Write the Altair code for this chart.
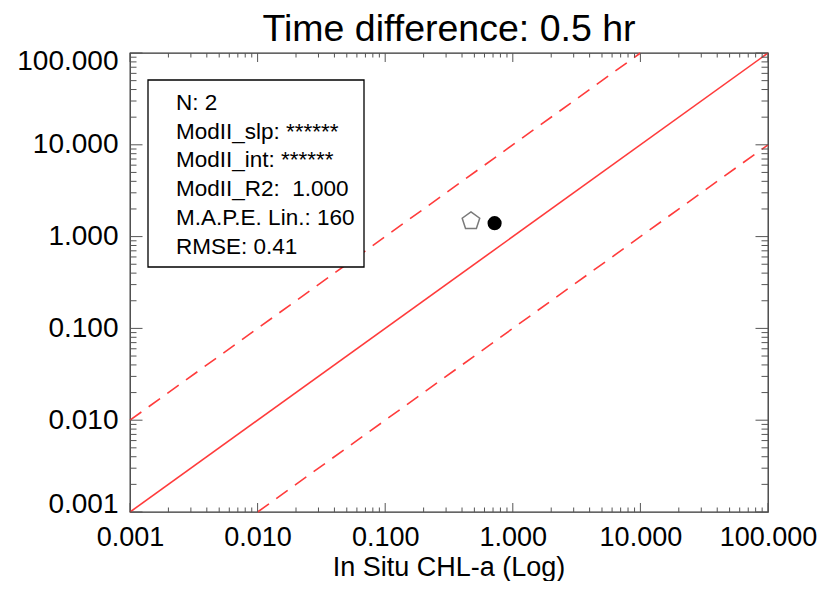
import altair as alt
import pandas as pd

# ---- data ----
decades = [0.001, 0.01, 0.1, 1.0, 10.0, 100.0]
minor_mult = [2, 3, 4, 5, 6, 7, 8, 9]

pent_x = [0.47]
pent_y = [1.51]
circ_x = [0.72]
circ_y = [1.40]

one_x = [0.001, 100.0]
one_y = [0.001, 100.0]
up_x = [0.001, 10.0]
up_y = [0.01, 100.0]
lo_x = [0.01, 100.0]
lo_y = [0.001, 10.0]

stats_lines = ["N: 2", "ModII_slp: ******", "ModII_int: ******",
               "ModII_R2: \u00a01.000", "M.A.P.E. Lin.: 160", "RMSE: 0.41"]
title_text = "Time difference: 0.5 hr"
x_title = "In Situ CHL-a (Log)"

# ---- layout / style ----
W, H = 638, 459
FONT = "Liberation Sans"
RED = "#ff3b3b"
TICK = "#555555"

xs = alt.Scale(type="log", domain=[decades[0], decades[-1]], nice=False)
ys = alt.Scale(type="log", domain=[decades[0], decades[-1]], nice=False)

x_axis = alt.Axis(values=decades, format=".3f", ticks=False, domain=False, grid=False,
                  labelFont=FONT, labelFontSize=27, labelColor="black", labelPadding=12,
                  labelFlush=False, labelOverlap=False, title=None)
y_axis = alt.Axis(values=decades, format=".3f", ticks=False, domain=False, grid=False,
                  labelFont=FONT, labelFontSize=28, labelColor="black", labelPadding=12,
                  labelFlush=True, labelFlushOffset=6, labelOverlap=False, title=None)

X = alt.X("x:Q", scale=xs, axis=x_axis)
Y = alt.Y("y:Q", scale=ys, axis=y_axis)

one_row = pd.DataFrame({"a": [0]})

def line_layer(xv, yv, dash=None):
    df = pd.DataFrame({"x": xv, "y": yv})
    kw = dict(color=RED, strokeWidth=1.6)
    if dash:
        kw["strokeDash"] = dash
    return alt.Chart(df).mark_line(**kw).encode(x=X, y=Y)

one = line_layer(one_x, one_y)
up = line_layer(up_x, up_y, [14, 9])
lo = line_layer(lo_x, lo_y, [14, 9])

box = alt.Chart(one_row).mark_rect(
    fill="white", stroke="black", strokeWidth=1.3
).encode(x=alt.value(18), x2=alt.value(234), y=alt.value(27), y2=alt.value(214))

stats = alt.Chart(one_row).mark_text(
    font=FONT, fontSize=22.5, align="left", baseline="middle", lineHeight=28.7, color="black"
).encode(x=alt.value(46), y=alt.value(50), text=alt.value(stats_lines))

title = alt.Chart(one_row).mark_text(
    font=FONT, fontSize=37.5, align="center", baseline="alphabetic", color="black"
).encode(x=alt.value(W / 2), y=alt.value(-12), text=alt.value(title_text))

xtitle = alt.Chart(one_row).mark_text(
    font=FONT, fontSize=27, align="center", baseline="alphabetic", color="black"
).encode(x=alt.value(W / 2), y=alt.value(H + 63.8), text=alt.value(x_title))

pent_path = "M0,-0.905 L0.951,-0.214 L0.588,0.905 L-0.588,0.905 L-0.951,-0.214 Z"
pent = alt.Chart(pd.DataFrame({"x": pent_x, "y": pent_y})).mark_point(
    shape=pent_path, filled=False, stroke="#7a7a7a", strokeWidth=1.5, size=340, opacity=1
).encode(x=X, y=Y)
circ = alt.Chart(pd.DataFrame({"x": circ_x, "y": circ_y})).mark_circle(
    color="black", size=200, opacity=1
).encode(x=X, y=Y)

major = decades
minor = [m * d for d in decades[:-1] for m in minor_mult]

def xticks(vals, y0, y1):
    return alt.Chart(pd.DataFrame({"x": vals})).mark_rule(color=TICK, strokeWidth=1).encode(
        x=X, y=alt.value(y0), y2=alt.value(y1))

def yticks(vals, x0, x1):
    return alt.Chart(pd.DataFrame({"y": vals})).mark_rule(color=TICK, strokeWidth=1).encode(
        y=Y, x=alt.value(x0), x2=alt.value(x1))

XM, Xm = 9, 4.5
YM, Ym = 12.5, 6.5
ticks = [
    xticks(major, H, H - XM), xticks(minor, H, H - Xm),
    xticks(major, 0, XM), xticks(minor, 0, Xm),
    yticks(major, 0, YM), yticks(minor, 0, Ym),
    yticks(major, W, W - YM), yticks(minor, W, W - Ym),
]

chart = alt.layer(one, up, lo, box, stats, pent, circ, *ticks, title, xtitle).properties(
    width=W, height=H,
    autosize=alt.AutoSizeParams(type="none"),
    padding={"left": 122, "top": 45, "right": 49, "bottom": 69},
).configure_view(stroke="#333333", strokeWidth=1.3)

chart.save("out.html", embed_options={"renderer": "svg", "actions": False})
